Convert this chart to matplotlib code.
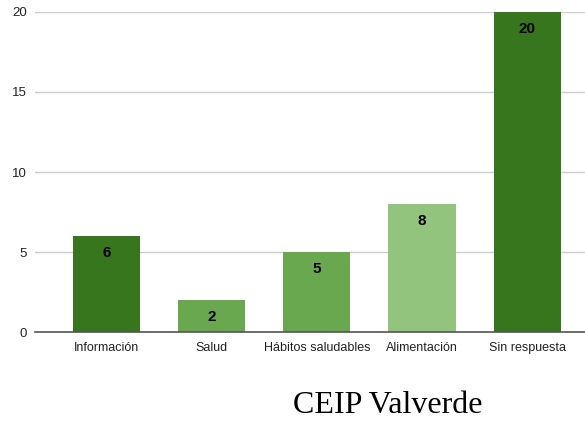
import matplotlib.pyplot as plt
import numpy as np

categories = ['Información', 'Salud', 'Hábitos saludables', 'Alimentación', 'Sin respuesta']
values = [6, 2, 5, 8, 20]
colors = ['#38761d', '#6aa84f', '#6aa84f', '#93c47d', '#38761d']
yticks = [0, 5, 10, 15, 20]

plt.rcParams['font.family'] = ['Liberation Sans', 'DejaVu Sans']

fig = plt.figure(figsize=(5.85, 4.23), dpi=100)
ax = fig.add_axes([35 / 585, 1 - 332 / 423, 550 / 585, 320 / 423])

x = np.arange(len(categories))
bars = ax.bar(x, values, width=0.64, color=colors, zorder=3)

# value labels just inside the top of each bar
for b, v in zip(bars, values):
    ax.annotate(str(v), (b.get_x() + b.get_width() / 2, v), xytext=(0, -12.5),
                textcoords='offset points', ha='center', va='center',
                fontsize=11, fontweight='bold', color='#000000', zorder=4)

ax.set_xlim(-0.68, 4.55)
ax.set_ylim(0, 20)
ax.set_yticks(yticks)
ax.set_xticks(x)
ax.set_xticklabels(categories, fontsize=9, color='#222222')
ax.tick_params(axis='y', labelsize=9.5, labelcolor='#222222', length=0, pad=6)
ax.tick_params(axis='x', length=0, pad=7)
ax.grid(axis='y', color='#cccccc', linewidth=1, zorder=0)
for s in ['top', 'right', 'left']:
    ax.spines[s].set_visible(False)
ax.spines['bottom'].set_color('#555555')
ax.spines['bottom'].set_linewidth(1.2)
ax.spines['bottom'].set_zorder(5)

fig.text(388 / 585, 1 - 405 / 423, 'CEIP Valverde', ha='center', va='center',
         fontsize=23, family='Liberation Serif', color='#000000')

fig.savefig('out.png', dpi=100)
